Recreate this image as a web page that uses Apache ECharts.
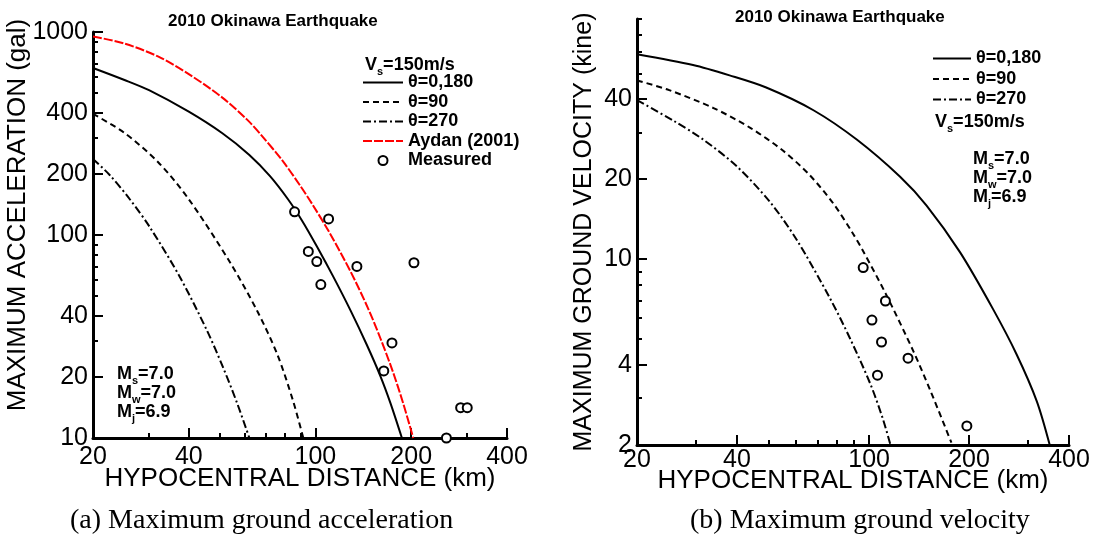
<!DOCTYPE html>
<html>
<head>
<meta charset="utf-8">
<script src="https://cdn.jsdelivr.net/npm/echarts@6/dist/echarts.min.js"></script>
<style>
  html, body { margin: 0; padding: 0; background: #fff; }
  #main { width: 1093px; height: 552px; }
</style>
</head>
<body>
<div id="main"></div>
<script>
// ---- (a) peak ground acceleration: [hypocentral distance km, gal] ----
const accTheta0 = [[20,665],[25,582],[30,517],[40,405],[51,317],[62,248],[72,195],[82,150],[91,117],[101,88],[114,62],[129,42.4],[145,28.8],[160,20.2],[172,14.9],[187,10]];
const accTheta90 = [[20,395],[25,320],[32,229],[40,150],[54,73],[65.7,42.1],[75.9,25.8],[85,15.3],[91.6,10]];
const accTheta270 = [[20,237],[22.6,197],[26.1,150],[30.2,109],[37.5,62.1],[45.6,33.9],[51.3,22.2],[56.7,14.9],[62,10]];
const accAydan = [[20,950],[25,879],[32,758],[40,620],[51,475],[61,370],[68,307],[79,231],[90,173],[98,141],[111,102],[129,66],[146,43.9],[160,31],[175,21.3],[189,14.7],[203,10]];
const accMeasured = [[86,130],[110,120],[95,83],[101,74],[104,57],[135,70],[204,73],[174,29.4],[164,21.4],[286,14.1],[300,14.1],[258,10]];

// ---- (b) peak ground velocity: [hypocentral distance km, kine] ----
const velTheta0 = [[20,59],[29.5,53.7],[38,49.1],[49,44.2],[68,36.3],[92,28.1],[124,20.4],[149,15.9],[188,10.6],[236,6.5],[278,4.39],[320,2.92],[350,2]];
const velTheta90 = [[20,47],[25,43.2],[34,37],[44,31.1],[55,25.6],[66,20.8],[78,16.2],[89,12.6],[96,10.7],[112,7.45],[136,4.5],[153,3.2],[177,2.04]];
const velTheta270 = [[20,39.6],[25.7,33.2],[31.6,28.2],[40,22.3],[50.3,16.4],[60.6,11.8],[76.3,7.11],[87.7,5.02],[101,3.38],[110,2.51],[116,2]];
const velMeasured = [[96,9.3],[112,6.96],[102,5.9],[109,4.88],[131,4.24],[106,3.66],[197,2.36]];

// ---- axis ranges and ticks ----
const distRange = [20, 400];
const distLabels = [20, 40, 100, 200, 400];
const distMinor = [30, 50, 60, 70, 80, 90, 300];
const accRange = [10, 1000];
const accLabels = [10, 20, 40, 100, 200, 400, 1000];
const accMinor = [30, 50, 60, 70, 80, 90, 300, 500, 600, 700, 800, 900];
const velRange = [2, 80];
const velLabels = [2, 4, 10, 20, 40];
const velMinor = [3, 5, 6, 7, 8, 9, 30, 50, 60, 70, 80];

const FONT = '"Liberation Sans", Arial, sans-serif';
const SERIF = '"Liberation Serif", "Times New Roman", serif';
const CLEAR = 'rgba(0,0,0,0)';

// Each panel dimension gets two identical log axes: the first carries the
// curves, the axis line, the labelled ticks and the name; the second carries
// the measured points and the short unlabelled ticks.
function axisPair(cfg) {
  const isY = cfg.dim === 'y';
  const base = {
    gridIndex: cfg.grid, position: cfg.pos, type: 'log', logBase: 10,
    min: cfg.range[0], max: cfg.range[1], splitLine: { show: false }, minorTick: { show: false }
  };
  const tickLine = { color: '#000', width: 2 };
  return [
    Object.assign({}, base, {
      axisLine: { show: true, onZero: false, lineStyle: { color: '#000', width: 3 } },
      axisTick: { show: true, inside: true, length: 10, customValues: cfg.labels, lineStyle: tickLine },
      axisLabel: { show: true, customValues: cfg.labels, formatter: v => String(Math.round(v)),
        fontSize: 25, color: '#000', fontFamily: FONT, margin: cfg.labelMargin },
      name: cfg.name, nameLocation: 'middle', nameGap: cfg.nameGap, nameRotate: isY ? 90 : 0,
      nameMoveOverlap: false,
      nameTextStyle: { fontSize: cfg.nameSize, color: '#000', fontFamily: FONT, padding: cfg.namePad || 0 }
    }),
    Object.assign({}, base, {
      axisLine: { show: true, onZero: false, lineStyle: { color: CLEAR, width: 0 } },
      axisTick: { show: true, inside: true, length: 5, customValues: cfg.minor, lineStyle: tickLine },
      axisLabel: { show: false }
    })
  ];
}

const xAxes = [].concat(
  axisPair({ dim: 'x', grid: 0, pos: 'bottom', range: distRange, labels: distLabels, minor: distMinor,
    name: 'HYPOCENTRAL DISTANCE (km)', nameGap: 28, nameSize: 26, labelMargin: 7 }),
  axisPair({ dim: 'x', grid: 1, pos: 'bottom', range: distRange, labels: distLabels, minor: distMinor,
    name: 'HYPOCENTRAL DISTANCE (km)', nameGap: 23, nameSize: 26, labelMargin: 3 })
);
const yAxes = [].concat(
  axisPair({ dim: 'y', grid: 0, pos: 'left', range: accRange, labels: accLabels, minor: accMinor,
    name: 'MAXIMUM ACCELERATION (gal)', nameGap: 62, nameSize: 26, labelMargin: 5, namePad: [0, 0, 0, 40] }),
  axisPair({ dim: 'y', grid: 1, pos: 'left', range: velRange, labels: velLabels, minor: velMinor,
    name: 'MAXIMUM GROUND VELOCITY (kine)', nameGap: 40, nameSize: 25, labelMargin: 5 })
);

function curve(name, data, axis, style) {
  return {
    name: name, type: 'line', data: data, xAxisIndex: axis, yAxisIndex: axis,
    symbol: 'none', smooth: 0.3,
    lineStyle: Object.assign({ color: '#000', width: 2 }, style),
    itemStyle: { color: style.color || '#000' }, z: 3
  };
}
function points(name, data, axis) {
  return {
    name: name, type: 'scatter', data: data, xAxisIndex: axis, yAxisIndex: axis,
    symbol: 'circle', symbolSize: 9,
    itemStyle: { color: '#fff', borderColor: '#000', borderWidth: 2, opacity: 1 }, z: 5
  };
}

const DASH = [6, 4];
const DASHDOT = [8, 3, 2, 3];
const RED_DASH = [9, 2];

const series = [
  curve('θ=0,180', accTheta0, 0, { type: 'solid' }),
  curve('θ=90', accTheta90, 0, { type: DASH }),
  curve('θ=270', accTheta270, 0, { type: DASHDOT }),
  curve('Aydan (2001)', accAydan, 0, { type: RED_DASH, color: '#ff0000' }),
  points('Measured', accMeasured, 1),
  curve('θ=0,180', velTheta0, 2, { type: 'solid' }),
  curve('θ=90', velTheta90, 2, { type: DASH }),
  curve('θ=270', velTheta270, 2, { type: DASHDOT }),
  points('Measured', velMeasured, 3)
];

const legendText = { fontSize: 18, fontWeight: 'bold', color: '#000', fontFamily: FONT, lineHeight: 19 };
const lineItem = name => ({ name: name, itemStyle: { opacity: 0 } });
const pointItem = name => ({ name: name, itemStyle: { color: '#fff', borderColor: '#000', borderWidth: 2, opacity: 1 } });

// text with a lowered subscript, e.g. V_s=150m/s
function subText(x, y, main, sub, rest) {
  return {
    type: 'text', left: x, top: y, silent: true,
    style: {
      text: '{n|' + main + '}{s|' + sub + '}{n|' + rest + '}',
      rich: {
        n: { fontSize: 18, fontWeight: 'bold', fontFamily: FONT, fill: '#000', lineHeight: 24 },
        s: { fontSize: 11, fontWeight: 'bold', fontFamily: FONT, fill: '#000', lineHeight: 11, verticalAlign: 'bottom' }
      }
    }
  };
}

const titleStyle = { fontSize: 17, fontWeight: 'bold', color: '#000', fontFamily: FONT };
const captionStyle = { fontSize: 28, fontWeight: 'normal', color: '#000', fontFamily: SERIF };

const option = {
  animation: false,
  backgroundColor: '#fff',
  title: [
    { text: '2010 Okinawa Earthquake', left: 168, top: 13, padding: 0, textStyle: titleStyle },
    { text: '2010 Okinawa Earthquake', left: 735, top: 9, padding: 0, textStyle: titleStyle },
    { text: '(a) Maximum ground acceleration', left: 70, top: 507, padding: 0, textStyle: captionStyle },
    { text: '(b) Maximum ground velocity', left: 690, top: 507, padding: 0, textStyle: captionStyle }
  ],
  grid: [
    { left: 93, top: 32, width: 414, height: 406 },
    { left: 637, top: 19, width: 432, height: 426 }
  ],
  xAxis: xAxes,
  yAxis: yAxes,
  legend: [
    { data: [lineItem('θ=0,180'), lineItem('θ=90'), lineItem('θ=270'), lineItem('Aydan (2001)'), pointItem('Measured')],
      orient: 'vertical', left: 362, top: 73, padding: 0, itemWidth: 40, itemHeight: 9, itemGap: 0.5,
      selectedMode: false, textStyle: legendText },
    { data: [lineItem('θ=0,180'), lineItem('θ=90'), lineItem('θ=270')],
      orient: 'vertical', left: 932, top: 49, padding: 0, itemWidth: 38, itemHeight: 9, itemGap: 1.5,
      selectedMode: false, textStyle: legendText }
  ],
  graphic: [
    subText(365, 56, 'V', 's', '=150m/s'),
    subText(117, 365, 'M', 's', '=7.0'),
    subText(117, 384, 'M', 'w', '=7.0'),
    subText(117, 403, 'M', 'j', '=6.9'),
    subText(935, 113, 'V', 's', '=150m/s'),
    subText(973, 150, 'M', 's', '=7.0'),
    subText(973, 169, 'M', 'w', '=7.0'),
    subText(973, 188, 'M', 'j', '=6.9')
  ],
  series: series
};

const chart = echarts.init(document.getElementById('main'), null, { renderer: 'canvas' });
chart.setOption(option);
</script>
</body>
</html>
